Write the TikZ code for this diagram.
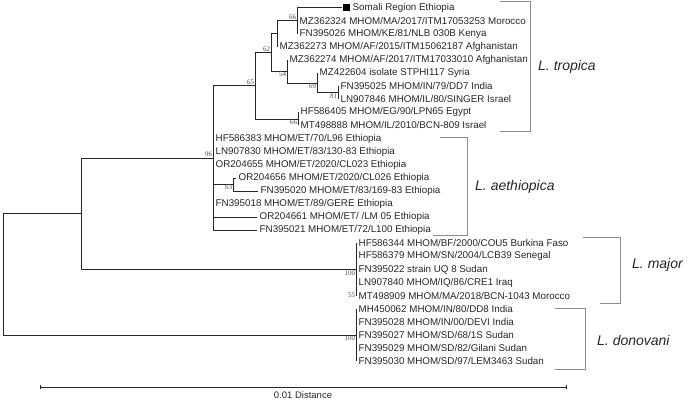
\documentclass[tikz,border=0pt]{standalone}
\usepackage{fontspec}
\setmainfont{Liberation Sans}
\newfontfamily\bsfont{Liberation Serif}
\begin{document}
\begin{tikzpicture}[x=1pt,y=-13.1pt,
  br/.style={draw=black!85,line width=0.5pt},
  bk/.style={draw=black!45,line width=0.8pt},
  leaf/.style={anchor=west,inner sep=0pt,xshift=2.5pt,font=\fontsize{9.8}{10}\selectfont,text=black!85},
  bsA/.style={anchor=south east,inner sep=0.8pt,font=\bsfont\fontsize{7}{7}\selectfont,text=black!70},
  bsB/.style={anchor=north east,inner sep=0.8pt,font=\bsfont\fontsize{7}{7}\selectfont,text=black!70},
  sp/.style={inner sep=0pt,font=\fontsize{14}{14}\selectfont\itshape,text=black!85}]
\useasboundingbox (0,-0.5725) rectangle (700,30.0382);
% internal nodes
\coordinate (root) at (3,20.37);
\coordinate (ing) at (81,15.74);
\coordinate (n96) at (213,11.485);
\coordinate (n65) at (255,5.97);
\coordinate (n62) at (271,3.4375);
\coordinate (nB) at (277,2);
\coordinate (n66) at (297,1);
\coordinate (n54) at (287,4.875);
\coordinate (nC) at (317,5.75);
\coordinate (nD) at (338,6.5);
\coordinate (nHM) at (298,8.5);
\coordinate (n63) at (233,13.5);
\coordinate (maj) at (356,20);
\coordinate (don) at (356,25);
% leaf tips
\coordinate (t0) at (342,0);
\coordinate (t1) at (297,1);
\coordinate (t2) at (297,2);
\coordinate (t3) at (277,3);
\coordinate (t4) at (287,4);
\coordinate (t5) at (317,5);
\coordinate (t6) at (338,6);
\coordinate (t7) at (338,7);
\coordinate (t8) at (298,8);
\coordinate (t9) at (298,9);
\coordinate (t10) at (213,10);
\coordinate (t11) at (213,11);
\coordinate (t12) at (213,12);
\coordinate (t13) at (236,13);
\coordinate (t14) at (258,14);
\coordinate (t15) at (213,15);
\coordinate (t16) at (257,16);
\coordinate (t17) at (257,17);
\foreach \i in {18,...,22} {\coordinate (t\i) at (356,\i);}
\foreach \i in {23,...,27} {\coordinate (t\i) at (356,\i);}
% branches
\draw[br] (root |- ing) -- (root |- don) (root |- ing) -- (ing) (root |- don) -- (don);
\draw[br] (ing |- n96) -- (ing |- maj) (ing |- n96) -- (n96) (ing |- maj) -- (maj);
\draw[br] (maj |- t18) -- (maj |- t22) (don |- t23) -- (don |- t27);
\draw[br] (n96 |- n65) -- (n96 |- t17) (n96 |- n65) -- (n65) (n96 |- n63) -- (n63)
  (n96 |- t16) -- (t16) (n96 |- t17) -- (t17);
\draw[br] (n63 |- t13) -- (n63 |- t14) (n63 |- t13) -- (t13) (n63 |- t14) -- (t14);
\draw[br] (n65 |- n62) -- (n65 |- nHM) (n65 |- n62) -- (n62) (n65 |- nHM) -- (nHM);
\draw[br] (nHM |- t8) -- (nHM |- t9);
\draw[br] (n62 |- nB) -- (n62 |- n54) (n62 |- nB) -- (nB) (n62 |- n54) -- (n54);
\draw[br] (nB |- n66) -- (nB |- t3) (nB |- n66) -- (n66);
\draw[br] (n66 |- t0) -- (n66 |- t2) (n66 |- t0) -- (t0);
\draw[br] (n54 |- t4) -- (n54 |- nC) (n54 |- nC) -- (nC);
\draw[br] (nC |- t5) -- (nC |- nD) (nC |- nD) -- (nD);
\draw[br] (nD |- t6) -- (nD |- t7);
% Somali marker
\node[fill=black,minimum size=7pt,inner sep=0pt,anchor=west] (sq) at ([xshift=1pt]t0) {};
% leaf labels
\node[leaf] (l0) at ([xshift=8pt]t0) {Somali Region Ethiopia};
\node[leaf] (l1) at (t1) {MZ362324 MHOM/MA/2017/ITM17053253 Morocco};
\node[leaf] (l2) at (t2) {FN395026 MHOM/KE/81/NLB 030B Kenya};
\node[leaf] (l3) at (t3) {MZ362273 MHOM/AF/2015/ITM15062187 Afghanistan};
\node[leaf] (l4) at (t4) {MZ362274 MHOM/AF/2017/ITM17033010 Afghanistan};
\node[leaf] (l5) at (t5) {MZ422604 isolate STPHI117 Syria};
\node[leaf] (l6) at (t6) {FN395025 MHOM/IN/79/DD7 India};
\node[leaf] (l7) at (t7) {LN907846 MHOM/IL/80/SINGER Israel};
\node[leaf] (l8) at (t8) {HF586405 MHOM/EG/90/LPN65 Egypt};
\node[leaf] (l9) at (t9) {MT498888 MHOM/IL/2010/BCN-809 Israel};
\node[leaf] (l10) at (t10) {HF586383 MHOM/ET/70/L96 Ethiopia};
\node[leaf] (l11) at (t11) {LN907830 MHOM/ET/83/130-83 Ethiopia};
\node[leaf] (l12) at (t12) {OR204655 MHOM/ET/2020/CL023 Ethiopia};
\node[leaf] (l13) at (t13) {OR204656 MHOM/ET/2020/CL026 Ethiopia};
\node[leaf] (l14) at (t14) {FN395020 MHOM/ET/83/169-83 Ethiopia};
\node[leaf] (l15) at (t15) {FN395018 MHOM/ET/89/GERE Ethiopia};
\node[leaf] (l16) at (t16) {OR204661 MHOM/ET/ /LM 05 Ethiopia};
\node[leaf] (l17) at (t17) {FN395021 MHOM/ET/72/L100 Ethiopia};
\node[leaf] (l18) at (t18) {HF586344 MHOM/BF/2000/COU5 Burkina Faso};
\node[leaf] (l19) at (t19) {HF586379 MHOM/SN/2004/LCB39 Senegal};
\node[leaf] (l20) at (t20) {FN395022 strain UQ 8 Sudan};
\node[leaf] (l21) at (t21) {LN907840 MHOM/IQ/86/CRE1 Iraq};
\node[leaf] (l22) at (t22) {MT498909 MHOM/MA/2018/BCN-1043 Morocco};
\node[leaf] (l23) at (t23) {MH450062 MHOM/IN/80/DD8 India};
\node[leaf] (l24) at (t24) {FN395028 MHOM/IN/00/DEVI India};
\node[leaf] (l25) at (t25) {FN395027 MHOM/SD/68/1S Sudan};
\node[leaf] (l26) at (t26) {FN395029 MHOM/SD/82/Gilani Sudan};
\node[leaf] (l27) at (t27) {FN395030 MHOM/SD/97/LEM3463 Sudan};
% bootstrap values
\node[bsA] (b66a) at (n66) {66};
\node[bsA] (b62) at (n62) {62};
\node[bsA] (b65) at (n65) {65};
\node[bsA] (b96) at (n96) {96};
\node[bsB] (b54) at (n54) {54};
\node[bsB] (b69) at (nC) {69};
\node[bsB] (b81) at (nD) {81};
\node[bsB] (b66b) at (nHM) {66};
\node[bsB] (b63) at (n63) {63};
\node[bsB] (b100a) at (maj) {100};
\node[bsB] (b100b) at (don) {100};
\node[bsA,anchor=east] (b55) at (t22) {55};
% clade brackets
\draw[bk] (500,-0.45) -- (530,-0.45) -- (530,9.45) -- (500,9.45);
\node[sp,anchor=west] (sT) at (538,4.55) {L. tropica};
\draw[bk] (440,9.9) -- (467,9.9) -- (467,17.4) -- (433,17.4);
\node[sp,anchor=west] (sA) at (475,13.7) {L. aethiopica};
\draw[bk] (583,17.55) -- (620,17.55) -- (620,22.6) -- (600,22.6);
\node[sp,anchor=west] (sM) at (632,19.65) {L. major};
\draw[bk] (555,22.95) -- (585,22.95) -- (585,27.6) -- (555,27.6);
\node[sp,anchor=west] (sD) at (597,25.4) {L. donovani};
% scale bar
\coordinate (s1) at (40,29.0);
\coordinate (s2) at (566,29.0);
\draw[br,line width=0.7pt] (s1) -- (s2) ([yshift=2pt]s1) -- ([yshift=-2pt]s1) ([yshift=2pt]s2) -- ([yshift=-2pt]s2);
\node[inner sep=0pt,font=\fontsize{9.5}{10}\selectfont,text=black!85] (sc) at (303,29.55) {0.01 Distance};
\end{tikzpicture}
\end{document}
